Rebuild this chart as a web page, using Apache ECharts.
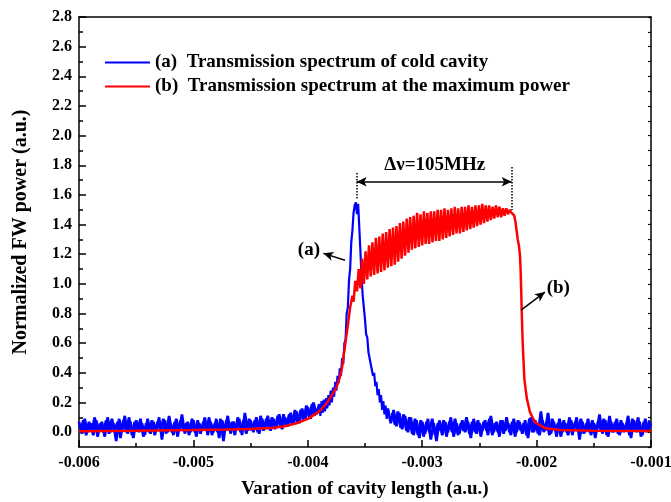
<!DOCTYPE html>
<html>
<head>
<meta charset="utf-8">
<script src="https://cdn.jsdelivr.net/npm/echarts@6/dist/echarts.min.js"></script>
<style>
html, body { margin: 0; padding: 0; background: #fff; }
#chart { width: 671px; height: 502px; }
</style>
</head>
<body>
<div id="chart"></div>
<script>
// x values are cavity length in units of 1e-3 (a.u.), y is normalized FW power
const nameA = '(a)  Transmission spectrum of cold cavity'
const nameB = '(b)  Transmission spectrum at the maximum power'

const yTickValues = [0, 0.2, 0.4, 0.6, 0.8, 1.0, 1.2, 1.4, 1.6, 1.8, 2.0, 2.2, 2.4, 2.6, 2.8]
const yMinorValues = [0.1, 0.3, 0.5, 0.7, 0.9, 1.1, 1.3, 1.5, 1.7, 1.9, 2.1, 2.3, 2.5, 2.7]

// blue: cold cavity, noisy baseline left of the peak
const blueLeft = [
  [-6.000, 0.07], [-5.975, -0.01], [-5.950, 0.09], [-5.925, 0.00], [-5.900, 0.06], [-5.875, -0.02],
  [-5.850, 0.08], [-5.825, 0.01], [-5.800, 0.07], [-5.775, -0.03], [-5.750, 0.10], [-5.725, 0.00],
  [-5.700, 0.06], [-5.675, -0.06], [-5.650, 0.09], [-5.625, 0.01], [-5.600, 0.11], [-5.575, -0.01],
  [-5.550, 0.07], [-5.525, -0.04], [-5.500, 0.08], [-5.475, 0.00], [-5.450, 0.06], [-5.425, -0.02],
  [-5.400, 0.09], [-5.375, -0.01], [-5.350, 0.07], [-5.325, 0.01], [-5.300, 0.10], [-5.275, -0.05],
  [-5.250, 0.08], [-5.225, 0.00], [-5.200, 0.06], [-5.175, -0.02], [-5.150, 0.09], [-5.125, 0.01],
  [-5.100, 0.12], [-5.075, -0.01], [-5.050, 0.07], [-5.025, 0.00], [-5.000, 0.08], [-4.975, -0.03],
  [-4.950, 0.06], [-4.925, 0.01], [-4.900, 0.10], [-4.875, -0.02], [-4.850, 0.07], [-4.825, 0.00],
  [-4.800, 0.09], [-4.775, -0.04], [-4.750, 0.08], [-4.725, 0.01], [-4.700, 0.11], [-4.675, -0.01],
  [-4.650, 0.07], [-4.625, 0.02], [-4.600, 0.09], [-4.575, -0.02], [-4.550, 0.13], [-4.525, 0.01],
  [-4.500, 0.08], [-4.475, 0.00], [-4.450, 0.10], [-4.425, -0.01], [-4.400, 0.09], [-4.375, 0.02],
  [-4.350, 0.11], [-4.325, 0.01], [-4.300, 0.09], [-4.275, 0.03], [-4.250, 0.12], [-4.225, 0.02],
  [-4.200, 0.10], [-4.175, 0.04], [-4.150, 0.13], [-4.125, 0.05], [-4.100, 0.14], [-4.075, 0.06],
  [-4.050, 0.16], [-4.025, 0.08], [-4.000, 0.17], [-3.975, 0.09], [-3.950, 0.20], [-3.925, 0.12]
]

// blue: second pass of noise samples between the ones above (left side)
const blueLeftMid = [
  [-5.9875, 0.00], [-5.9625, 0.08], [-5.9375, -0.02], [-5.9125, 0.07], [-5.8875, 0.01], [-5.8625, 0.10],
  [-5.8375, -0.03], [-5.8125, 0.06], [-5.7875, 0.00], [-5.7625, 0.08], [-5.7375, -0.01], [-5.7125, 0.09],
  [-5.6875, 0.01], [-5.6625, 0.07], [-5.6375, -0.04], [-5.6125, 0.08], [-5.5875, 0.00], [-5.5625, 0.10],
  [-5.5375, -0.02], [-5.5125, 0.07], [-5.4875, 0.01], [-5.4625, 0.09], [-5.4375, -0.03], [-5.4125, 0.06],
  [-5.3875, 0.00], [-5.3625, 0.08], [-5.3375, -0.02], [-5.3125, 0.07], [-5.2875, 0.01], [-5.2625, 0.09],
  [-5.2375, -0.01], [-5.2125, 0.11], [-5.1875, 0.00], [-5.1625, 0.07], [-5.1375, -0.03], [-5.1125, 0.08],
  [-5.0875, 0.01], [-5.0625, 0.06], [-5.0375, -0.02], [-5.0125, 0.09], [-4.9875, 0.00], [-4.9625, 0.08],
  [-4.9375, -0.01], [-4.9125, 0.07], [-4.8875, 0.01], [-4.8625, 0.10], [-4.8375, -0.02], [-4.8125, 0.06],
  [-4.7875, 0.00], [-4.7625, 0.09], [-4.7375, -0.06], [-4.7125, 0.08], [-4.6875, 0.01], [-4.6625, 0.07],
  [-4.6375, -0.02], [-4.6125, 0.10], [-4.5875, 0.00], [-4.5625, 0.08], [-4.5375, -0.01], [-4.5125, 0.09],
  [-4.4875, 0.01], [-4.4625, 0.08], [-4.4375, 0.00], [-4.4125, 0.11], [-4.3875, 0.01], [-4.3625, 0.09],
  [-4.3375, 0.02], [-4.3125, 0.10], [-4.2875, 0.02], [-4.2625, 0.11], [-4.2375, 0.03], [-4.2125, 0.12],
  [-4.1875, 0.04], [-4.1625, 0.12], [-4.1375, 0.05], [-4.1125, 0.15], [-4.0875, 0.06], [-4.0625, 0.15],
  [-4.0375, 0.08], [-4.0125, 0.18], [-3.9875, 0.10], [-3.9625, 0.19], [-3.9375, 0.11]
]

// blue: the cold cavity resonance
const bluePeak = [
  [-3.90, 0.19], [-3.89, 0.11], [-3.88, 0.21], [-3.87, 0.13], [-3.86, 0.22], [-3.85, 0.14],
  [-3.84, 0.23], [-3.83, 0.16], [-3.82, 0.25], [-3.81, 0.18], [-3.80, 0.28], [-3.79, 0.20],
  [-3.78, 0.30], [-3.77, 0.24], [-3.76, 0.34], [-3.75, 0.28], [-3.74, 0.38], [-3.73, 0.33],
  [-3.72, 0.43], [-3.71, 0.38], [-3.70, 0.50], [-3.69, 0.46], [-3.68, 0.60], [-3.67, 0.62],
  [-3.66, 0.80], [-3.65, 0.84], [-3.64, 1.02], [-3.63, 1.10], [-3.62, 1.28], [-3.61, 1.36],
  [-3.60, 1.48], [-3.59, 1.53], [-3.58, 1.55], [-3.57, 1.47], [-3.56, 1.54], [-3.55, 1.38],
  [-3.54, 1.22], [-3.53, 1.04], [-3.52, 0.92], [-3.51, 0.84], [-3.50, 0.76], [-3.49, 0.66],
  [-3.48, 0.64], [-3.47, 0.54], [-3.46, 0.55], [-3.45, 0.46], [-3.44, 0.47], [-3.43, 0.38],
  [-3.42, 0.40], [-3.41, 0.31], [-3.40, 0.34], [-3.39, 0.25], [-3.38, 0.29], [-3.37, 0.20],
  [-3.36, 0.25], [-3.35, 0.15], [-3.34, 0.21], [-3.33, 0.12], [-3.32, 0.18], [-3.31, 0.09],
  [-3.30, 0.16]
]

// blue: noisy baseline right of the peak
const blueRight = [
  [-3.275, 0.06], [-3.250, 0.15], [-3.225, 0.04], [-3.200, 0.13], [-3.175, 0.02], [-3.150, 0.11],
  [-3.125, 0.00], [-3.100, 0.10], [-3.075, -0.02], [-3.050, 0.08], [-3.025, -0.04], [-3.000, 0.07],
  [-2.975, -0.01], [-2.950, 0.09], [-2.925, -0.05], [-2.900, 0.06], [-2.875, -0.06], [-2.850, 0.08],
  [-2.825, -0.02], [-2.800, 0.07], [-2.775, 0.00], [-2.750, 0.10], [-2.725, -0.03], [-2.700, 0.06],
  [-2.675, -0.01], [-2.650, 0.08], [-2.625, 0.00], [-2.600, 0.07], [-2.575, -0.04], [-2.550, 0.09],
  [-2.525, -0.01], [-2.500, 0.06], [-2.475, 0.01], [-2.450, 0.08], [-2.425, -0.02], [-2.400, 0.11],
  [-2.375, 0.00], [-2.350, 0.07], [-2.325, -0.03], [-2.300, 0.08], [-2.275, 0.01], [-2.250, 0.06],
  [-2.225, -0.02], [-2.200, 0.09], [-2.175, 0.00], [-2.150, 0.07], [-2.125, -0.01], [-2.100, 0.08],
  [-2.075, -0.04], [-2.050, 0.10], [-2.025, 0.00], [-2.000, 0.06], [-1.975, -0.02], [-1.950, 0.08],
  [-1.925, 0.01], [-1.900, 0.13], [-1.875, -0.01], [-1.850, 0.07], [-1.825, -0.03], [-1.800, 0.09],
  [-1.775, 0.00], [-1.750, 0.06], [-1.725, -0.02], [-1.700, 0.08], [-1.675, 0.01], [-1.650, 0.10],
  [-1.625, -0.05], [-1.600, 0.07], [-1.575, 0.00], [-1.550, 0.09], [-1.525, -0.02], [-1.500, 0.06],
  [-1.475, 0.01], [-1.450, 0.12], [-1.425, -0.01], [-1.400, 0.08], [-1.375, -0.03], [-1.350, 0.07],
  [-1.325, 0.00], [-1.300, 0.09], [-1.275, -0.02], [-1.250, 0.06], [-1.225, 0.01], [-1.200, 0.11],
  [-1.175, -0.04], [-1.150, 0.08], [-1.125, 0.00], [-1.100, 0.07], [-1.075, -0.02], [-1.050, 0.09],
  [-1.025, 0.01], [-1.000, 0.06]
]

// blue: second pass of noise samples (right side)
const blueRightMid = [
  [-3.2625, 0.13], [-3.2375, 0.05], [-3.2125, 0.14], [-3.1875, 0.03], [-3.1625, 0.12], [-3.1375, 0.01],
  [-3.1125, 0.10], [-3.0875, -0.01], [-3.0625, 0.09], [-3.0375, -0.02], [-3.0125, 0.08], [-2.9875, -0.03],
  [-2.9625, 0.07], [-2.9375, 0.00], [-2.9125, 0.09], [-2.8875, -0.02], [-2.8625, 0.06], [-2.8375, 0.01],
  [-2.8125, 0.08], [-2.7875, -0.03], [-2.7625, 0.07], [-2.7375, 0.00], [-2.7125, 0.09], [-2.6875, -0.02],
  [-2.6625, 0.06], [-2.6375, 0.01], [-2.6125, 0.10], [-2.5875, -0.01], [-2.5625, 0.07], [-2.5375, 0.00],
  [-2.5125, 0.08], [-2.4875, -0.03], [-2.4625, 0.07], [-2.4375, 0.01], [-2.4125, 0.09], [-2.3875, -0.02],
  [-2.3625, 0.06], [-2.3375, 0.00], [-2.3125, 0.08], [-2.2875, -0.01], [-2.2625, 0.10], [-2.2375, 0.00],
  [-2.2125, 0.07], [-2.1875, -0.03], [-2.1625, 0.08], [-2.1375, 0.01], [-2.1125, 0.06], [-2.0875, -0.02],
  [-2.0625, 0.09], [-2.0375, 0.00], [-2.0125, 0.08], [-1.9875, -0.01], [-1.9625, 0.14], [-1.9375, 0.00],
  [-1.9125, 0.07], [-1.8875, -0.02], [-1.8625, 0.09], [-1.8375, 0.01], [-1.8125, 0.06], [-1.7875, -0.03],
  [-1.7625, 0.08], [-1.7375, 0.00], [-1.7125, 0.10], [-1.6875, -0.02], [-1.6625, 0.07], [-1.6375, 0.01],
  [-1.6125, 0.09], [-1.5875, -0.01], [-1.5625, 0.06], [-1.5375, 0.00], [-1.5125, 0.08], [-1.4875, -0.04],
  [-1.4625, 0.07], [-1.4375, 0.01], [-1.4125, 0.09], [-1.3875, -0.02], [-1.3625, 0.11], [-1.3375, 0.00],
  [-1.3125, 0.07], [-1.2875, -0.01], [-1.2625, 0.08], [-1.2375, 0.00], [-1.2125, 0.06], [-1.1875, -0.02],
  [-1.1625, 0.09], [-1.1375, 0.01], [-1.1125, 0.10], [-1.0875, -0.03], [-1.0625, 0.07], [-1.0375, 0.00],
  [-1.0125, 0.08]
]

// red: maximum power, smooth rise
const redRise = [
  [-6.00, 0.007], [-5.50, 0.010], [-5.00, 0.014], [-4.70, 0.018], [-4.50, 0.022], [-4.30, 0.030],
  [-4.20, 0.040], [-4.10, 0.060], [-4.00, 0.090], [-3.90, 0.140], [-3.83, 0.200], [-3.75, 0.300],
  [-3.72, 0.370], [-3.70, 0.440], [-3.675, 0.580], [-3.65, 0.720], [-3.63, 0.840], [-3.61, 0.920]
]

// red: oscillating plateau (lower / upper turning points)
const redBand = [
  [-3.600, 0.88], [-3.585, 1.02], [-3.570, 0.95], [-3.555, 1.10], [-3.540, 0.97], [-3.525, 1.17],
  [-3.510, 1.00], [-3.495, 1.22], [-3.480, 1.03], [-3.465, 1.26], [-3.450, 1.05], [-3.435, 1.28],
  [-3.420, 1.06], [-3.405, 1.31], [-3.390, 1.07], [-3.375, 1.32], [-3.360, 1.08], [-3.345, 1.34],
  [-3.330, 1.09], [-3.315, 1.35], [-3.300, 1.11], [-3.285, 1.37], [-3.270, 1.12], [-3.255, 1.38],
  [-3.240, 1.13], [-3.225, 1.39], [-3.210, 1.15], [-3.195, 1.41], [-3.180, 1.17], [-3.165, 1.42],
  [-3.150, 1.19], [-3.135, 1.44], [-3.120, 1.21], [-3.105, 1.45], [-3.090, 1.23], [-3.075, 1.46],
  [-3.060, 1.24], [-3.045, 1.48], [-3.030, 1.25], [-3.015, 1.47], [-3.000, 1.26], [-2.985, 1.49],
  [-2.970, 1.27], [-2.955, 1.48], [-2.940, 1.27], [-2.925, 1.49], [-2.910, 1.28], [-2.895, 1.49],
  [-2.880, 1.29], [-2.865, 1.50], [-2.850, 1.29], [-2.835, 1.50], [-2.820, 1.30], [-2.805, 1.51],
  [-2.790, 1.31], [-2.775, 1.50], [-2.760, 1.32], [-2.745, 1.51], [-2.730, 1.33], [-2.715, 1.52],
  [-2.700, 1.34], [-2.685, 1.51], [-2.670, 1.34], [-2.655, 1.52], [-2.640, 1.35], [-2.625, 1.52],
  [-2.610, 1.36], [-2.595, 1.53], [-2.580, 1.37], [-2.565, 1.52], [-2.550, 1.38], [-2.535, 1.53],
  [-2.520, 1.39], [-2.505, 1.53], [-2.490, 1.40], [-2.475, 1.54], [-2.460, 1.41], [-2.445, 1.53],
  [-2.430, 1.42], [-2.415, 1.53], [-2.400, 1.43], [-2.385, 1.52], [-2.370, 1.44], [-2.355, 1.53],
  [-2.340, 1.45], [-2.325, 1.52], [-2.310, 1.45], [-2.295, 1.51], [-2.280, 1.46], [-2.265, 1.51],
  [-2.250, 1.47], [-2.235, 1.50], [-2.220, 1.48]
]

// red: sharp drop and tail
const redDrop = [
  [-2.206, 1.485], [-2.195, 1.46], [-2.185, 1.42], [-2.175, 1.36], [-2.165, 1.30], [-2.155, 1.26],
  [-2.145, 1.19], [-2.140, 1.10], [-2.136, 1.00], [-2.130, 0.81], [-2.121, 0.59], [-2.107, 0.36],
  [-2.086, 0.23], [-2.058, 0.135], [-2.014, 0.067], [-1.927, 0.027], [-1.80, 0.015], [-1.50, 0.010],
  [-1.00, 0.008]
]

// annotation anchors (data coords)
const widthArrow = [[-3.573, 1.689], [-2.218, 1.689]]
const dotLeft = [[-3.573, 1.748], [-3.573, 1.565]]
const dotRight = [[-2.218, 1.788], [-2.218, 1.498]]
const arrowA = [[-3.675, 1.16], [-3.864, 1.206]]
const arrowB = [[-2.136, 0.823], [-1.927, 0.945]]
const labelPoints = [
  { text: 'Δν=105MHz', at: [-2.89, 1.80] },
  { text: '(a)', at: [-3.99, 1.228] },
  { text: '(b)', at: [-1.81, 0.975] }
]

const font = "'Liberation Serif', 'Times New Roman', serif"

function axisText (size) {
  return { fontFamily: font, fontWeight: 'bold', fontSize: size, color: '#000' }
}

function helper (pair, style, symbols) {
  return {
    type: 'line',
    data: [],
    silent: true,
    markLine: {
      silent: true,
      animation: false,
      symbol: symbols,
      symbolSize: [7, 10],
      label: { show: false },
      lineStyle: style,
      emphasis: { disabled: true },
      data: [[{ coord: pair[0] }, { coord: pair[1] }]]
    }
  }
}

function blueLine (data, width) {
  return {
    name: nameA,
    type: 'line',
    symbol: 'none',
    color: '#0000ff',
    lineStyle: { color: '#0000ff', width: width },
    data: data
  }
}

const chart = echarts.init(document.getElementById('chart'))

const options = {
  animation: false,
  backgroundColor: '#fff',
  grid: { left: 79, top: 17, right: 20, bottom: 55, outerBoundsMode: 'none' },
  legend: {
    orient: 'vertical',
    left: 100,
    top: 48,
    icon: 'rect',
    itemWidth: 45,
    itemHeight: 2,
    itemGap: 5,
    selectedMode: false,
    data: [nameA, nameB],
    textStyle: axisText(19)
  },
  xAxis: [
    {
      type: 'value',
      position: 'bottom',
      min: -6,
      max: -1,
      interval: 1,
      name: 'Varation of cavity length (a.u.)',
      nameLocation: 'middle',
      nameGap: 33,
      nameMoveOverlap: false,
      nameTextStyle: axisText(19),
      axisLine: { show: true, onZero: false, lineStyle: { color: '#000', width: 1.5 } },
      axisTick: { show: true, inside: true, length: 7, lineStyle: { color: '#000', width: 1.5 } },
      minorTick: { show: true, splitNumber: 2, length: 4, lineStyle: { color: '#000', width: 1.5 } },
      splitLine: { show: false },
      minorSplitLine: { show: false },
      axisLabel: Object.assign(axisText(16), {
        margin: 8,
        formatter: v => (v / 1000).toFixed(3)
      })
    },
    {
      type: 'value',
      position: 'top',
      min: -6,
      max: -1,
      interval: 1,
      axisLine: { show: true, onZero: false, lineStyle: { color: '#000', width: 1.5 } },
      axisTick: { show: false },
      axisLabel: { show: false },
      splitLine: { show: false }
    }
  ],
  yAxis: [
    {
      type: 'value',
      position: 'left',
      min: -0.1,
      max: 2.8,
      name: 'Normalized FW power (a.u.)',
      nameLocation: 'middle',
      nameGap: 48,
      nameMoveOverlap: false,
      nameTextStyle: axisText(20),
      axisLine: { show: true, onZero: false, lineStyle: { color: '#000', width: 1.5 } },
      // custom tick values ignore "inside", so a negative length turns them inward
      axisTick: { show: true, inside: false, length: -7, customValues: yTickValues, lineStyle: { color: '#000', width: 1.5 } },
      splitLine: { show: false },
      axisLabel: Object.assign(axisText(16), {
        margin: 7,
        customValues: yTickValues,
        formatter: v => v.toFixed(1)
      })
    },
    {
      type: 'value',
      position: 'left',
      min: -0.1,
      max: 2.8,
      axisLine: { show: false, onZero: false },
      axisTick: { show: true, inside: false, length: -4, customValues: yMinorValues, lineStyle: { color: '#000', width: 1.5 } },
      axisLabel: { show: false },
      splitLine: { show: false }
    },
    {
      type: 'value',
      position: 'right',
      min: -0.1,
      max: 2.8,
      interval: 0.1,
      axisLine: { show: true, onZero: false, lineStyle: { color: '#000', width: 1.5 } },
      axisTick: { show: true, inside: true, length: 3, lineStyle: { color: '#000', width: 1.2 } },
      axisLabel: { show: false },
      splitLine: { show: false }
    }
  ],
  series: [
    blueLine(blueLeft.concat(bluePeak.slice(0, 1)), 2.7),
    blueLine(blueLeftMid, 2.7),
    blueLine(bluePeak, 2.2),
    blueLine(bluePeak.slice(-1).concat(blueRight), 2.7),
    blueLine(blueRightMid, 2.7),
    {
      name: nameB,
      type: 'line',
      symbol: 'none',
      color: '#ff0000',
      lineStyle: { color: '#ff0000', width: 2.5 },
      data: redRise.concat(redBand, redDrop)
    },
    helper(widthArrow, { color: '#000', width: 1.5, type: 'solid' }, ['arrow', 'arrow']),
    helper(dotLeft, { color: '#000', width: 1.5, type: 'dotted' }, ['none', 'none']),
    helper(dotRight, { color: '#000', width: 1.5, type: 'dotted' }, ['none', 'none']),
    helper(arrowA, { color: '#000', width: 1.5, type: 'solid' }, ['none', 'arrow']),
    helper(arrowB, { color: '#000', width: 1.5, type: 'solid' }, ['none', 'arrow']),
    {
      type: 'line',
      data: [],
      silent: true,
      markPoint: {
        silent: true,
        animation: false,
        symbol: 'circle',
        symbolSize: 0,
        label: Object.assign(axisText(19), { show: true, position: 'inside' }),
        data: labelPoints.map(p => ({ coord: p.at, value: p.text, label: { formatter: p.text } }))
      }
    }
  ]
}

chart.setOption(options)
</script>
</body>
</html>
